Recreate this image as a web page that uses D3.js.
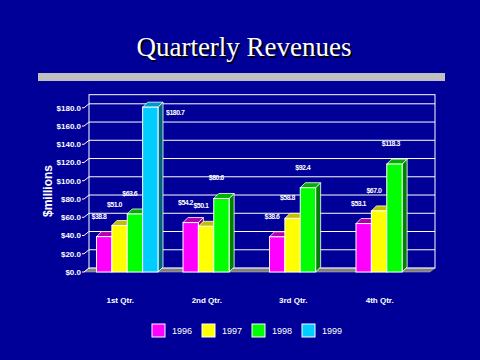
<!DOCTYPE html>
<html>
<head>
<meta charset="utf-8">
<script src="https://cdn.jsdelivr.net/npm/d3@7"></script>
<style>
  body { margin: 0; background: #000099; }
  svg { display: block; }
</style>
</head>
<body>
<script>
const quarters = ['1st Qtr.', '2nd Qtr.', '3rd Qtr.', '4th Qtr.']
const years = ['1996', '1997', '1998', '1999']
const v1996 = [38.8, 54.2, 38.6, 53.1]
const v1997 = [51.0, 50.1, 58.8, 67.0]
const v1998 = [63.6, 80.6, 92.4, 118.3]
const v1999 = [180.7, null, null, null]
const yTicks = [0, 20, 40, 60, 80, 100, 120, 140, 160, 180]

const series = [v1996, v1997, v1998, v1999]
const colors = {
  '1996': {front: '#ff00ff', top: '#b000b0', side: '#800080'},
  '1997': {front: '#ffff00', top: '#c0c000', side: '#808000'},
  '1998': {front: '#00ff00', top: '#00b000', side: '#008000'},
  '1999': {front: '#00ccff', top: '#0099cc', side: '#006680'}
}

const data = []
quarters.forEach((q, i) => {
  years.forEach((y, j) => {
    if (series[j][i] != null) data.push({quarter: q, year: y, value: series[j][i]})
  })
})

const width = 480
const height = 360
const depth = {x: 5, y: -4}
const barDepth = {x: 5, y: -5}
const sans = 'Liberation Sans, Arial, sans-serif'

const svg = d3.select('body').append('svg')
  .attr('width', width)
  .attr('height', height)

svg.append('rect')
  .attr('width', width).attr('height', height)
  .attr('fill', '#000099')

// title with drop shadow
svg.append('text')
  .attr('x', 244).attr('y', 56)
  .attr('text-anchor', 'middle')
  .attr('font-family', 'Liberation Serif, Times New Roman, serif')
  .attr('font-size', 27)
  .attr('fill', '#ffffff')
  .style('text-shadow', '2px 2px 0 #000000')
  .text('Quarterly Revenues')

svg.append('rect')
  .attr('x', 38).attr('y', 73)
  .attr('width', 407).attr('height', 8)
  .attr('fill', '#c0c0c0')

const xScale = d3.scaleBand()
  .domain(quarters)
  .range([84, 430])

const xInner = d3.scaleBand()
  .domain(years)
  .range([12.5, xScale.bandwidth() - 12.5])

const yScale = d3.scaleLinear()
  .domain([0, 180])
  .range([272, 107.8])

const wallTop = yScale(190) + depth.y
const wallBottom = yScale(0) + depth.y
const x0 = xScale.range()[0]
const x1 = xScale.range()[1]

// floor
svg.append('path')
  .attr('d', `M${x0},${yScale(0)} L${x1},${yScale(0)} L${x1 + depth.x},${wallBottom} L${x0 + depth.x},${wallBottom} Z`)
  .attr('fill', '#808080')
  .attr('stroke', '#c0c0c0')
  .attr('stroke-width', 0.5)

// back wall
svg.append('rect')
  .attr('x', x0 + depth.x).attr('y', wallTop)
  .attr('width', x1 - x0).attr('height', wallBottom - wallTop)
  .attr('fill', 'none')
  .attr('stroke', '#ffffff')

svg.append('g').selectAll('line')
  .data(yTicks.filter(d => d > 0))
  .join('line')
  .attr('x1', x0 + depth.x).attr('x2', x1 + depth.x)
  .attr('y1', d => yScale(d) + depth.y).attr('y2', d => yScale(d) + depth.y)
  .attr('stroke', '#ffffff')

// y axis ticks
const yAxisGroup = svg.append('g')
yAxisGroup.selectAll('path')
  .data(yTicks)
  .join('path')
  .attr('d', d => `M${x0 - 2},${yScale(d)} L${x0},${yScale(d)} L${x0 + depth.x},${yScale(d) + depth.y}`)
  .attr('fill', 'none')
  .attr('stroke', '#ffffff')
yAxisGroup.selectAll('text')
  .data(yTicks)
  .join('text')
  .attr('x', x0 - 3)
  .attr('y', d => yScale(d))
  .attr('dy', '0.35em')
  .attr('text-anchor', 'end')
  .attr('font-family', sans)
  .attr('font-size', 8)
  .attr('font-weight', 'bold')
  .attr('fill', '#ffffff')
  .text(d => '$' + d.toFixed(1))

svg.append('text')
  .attr('transform', 'translate(52,191) rotate(-90)')
  .attr('text-anchor', 'middle')
  .attr('font-family', sans)
  .attr('font-size', 12)
  .attr('font-weight', 'bold')
  .attr('fill', '#ffffff')
  .text('$millions')

// bars
const barGroup = svg.append('g')
const bw = xInner.bandwidth()
const bars = barGroup.selectAll('g')
  .data(data)
  .join('g')
  .attr('transform', d => `translate(${xScale(d.quarter) + xInner(d.year)},0)`)

bars.append('path')
  .attr('d', d => {
    const t = yScale(d.value), b = yScale(0)
    return `M${bw},${b} L${bw + barDepth.x},${b + barDepth.y} L${bw + barDepth.x},${t + barDepth.y} L${bw},${t} Z`
  })
  .attr('fill', d => colors[d.year].side)
  .attr('stroke', '#ffffff')
  .attr('stroke-width', 0.8)
bars.append('path')
  .attr('d', d => {
    const t = yScale(d.value)
    return `M0,${t} L${barDepth.x},${t + barDepth.y} L${bw + barDepth.x},${t + barDepth.y} L${bw},${t} Z`
  })
  .attr('fill', d => colors[d.year].top)
  .attr('stroke', '#ffffff')
  .attr('stroke-width', 0.8)
bars.append('rect')
  .attr('x', 0)
  .attr('y', d => yScale(d.value))
  .attr('width', bw)
  .attr('height', d => yScale(0) - yScale(d.value))
  .attr('fill', d => colors[d.year].front)
  .attr('stroke', '#ffffff')
  .attr('stroke-width', 1)

// value labels
const maxVal = d3.max(data, d => d.value)
barGroup.selectAll('text.val')
  .data(data)
  .join('text')
  .attr('class', 'val')
  .attr('x', d => xScale(d.quarter) + xInner(d.year) + (d.value === maxVal ? bw + barDepth.x + 3 : -5))
  .attr('y', d => d.value === maxVal ? yScale(d.value) + 8 : yScale(d.value) - 18)
  .attr('font-family', sans)
  .attr('font-size', 7)
  .attr('font-weight', 'bold')
  .attr('letter-spacing', -0.5)
  .attr('fill', '#ffffff')
  .text(d => '$' + d.value.toFixed(1))

// category labels
svg.append('g').selectAll('text')
  .data(quarters)
  .join('text')
  .attr('x', d => xScale(d) + xScale.bandwidth() / 2 - 7)
  .attr('y', 303)
  .attr('text-anchor', 'middle')
  .attr('font-family', sans)
  .attr('font-size', 8)
  .attr('font-weight', 'bold')
  .attr('fill', '#ffffff')
  .text(d => d)

// legend
const legendScale = d3.scalePoint()
  .domain(years)
  .range([152, 302])
const legend = svg.append('g').selectAll('g')
  .data(years)
  .join('g')
  .attr('transform', d => `translate(${legendScale(d)},324)`)
legend.append('rect')
  .attr('width', 13).attr('height', 13)
  .attr('fill', d => colors[d].front)
  .attr('stroke', '#ffffff')
  .attr('stroke-width', 1)
legend.append('text')
  .attr('x', 20).attr('y', 10)
  .attr('font-family', sans)
  .attr('font-size', 9)
  .attr('fill', '#ffffff')
  .text(d => d)
</script>
</body>
</html>
